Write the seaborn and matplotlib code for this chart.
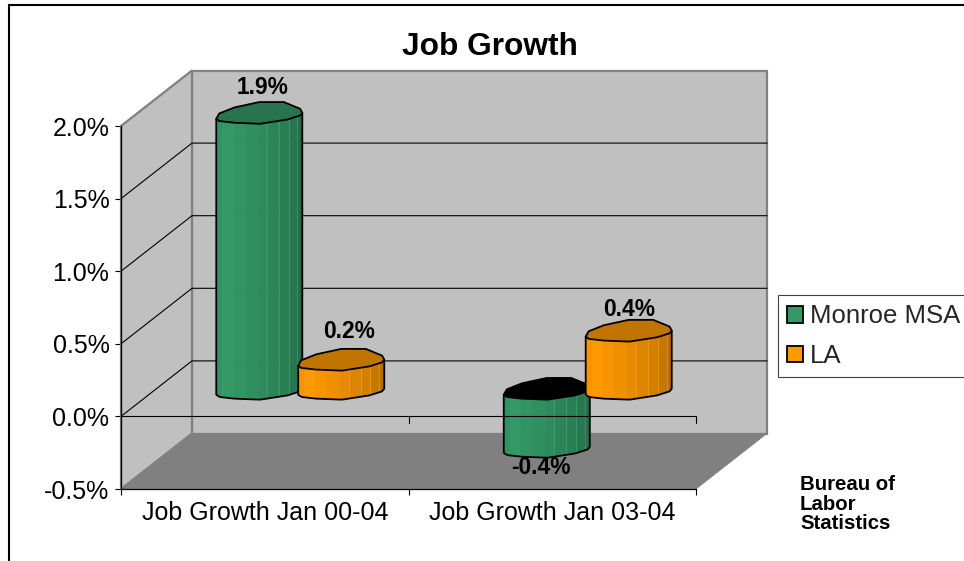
import numpy as np
import pandas as pd
import matplotlib
matplotlib.use("Agg")
import matplotlib.pyplot as plt
from matplotlib.colors import to_rgb
from matplotlib.lines import Line2D
from matplotlib.patches import Patch, Polygon, Rectangle
import seaborn as sns

# ---------- data ----------
categories = ["Job Growth Jan 00-04", "Job Growth Jan 03-04"]
series_names = ["Monroe MSA", "LA"]
monroe_values = [1.9, -0.4]
la_values = [0.2, 0.4]
y_ticks = [-0.5, 0.0, 0.5, 1.0, 1.5, 2.0]
title_text = "Job Growth"
source_text = "Bureau of\nLabor\nStatistics"

# ---------- styling ----------
W, H = 964, 561
AX_L, AX_R, AX_T, AX_B = 121, 696, 126, 489
DEPTH_X, DEPTH_Y = 71, 55.5
GREEN, ORANGE = "#339966", "#FF9900"
WALL, FLOOR, EDGE = "#C0C0C0", "#808080", "#808080"
FONT = "Liberation Sans"

sns.set_style("white")
plt.rcParams["font.family"] = [FONT, "DejaVu Sans"]

fig = plt.figure(figsize=(W / 100, H / 100), dpi=100, facecolor="white")
ax = fig.add_axes([AX_L / W, 1 - AX_B / H, (AX_R - AX_L) / W, (AX_B - AX_T) / H])
ax.patch.set_alpha(0)

df = pd.DataFrame({
    "category": categories * 2,
    "series": [series_names[0]] * 2 + [series_names[1]] * 2,
    "value": monroe_values + la_values,
})
sns.barplot(data=df, x="category", y="value", hue="series", ax=ax,
            palette=[GREEN, ORANGE], width=0.57, gap=-0.05, legend=False,
            order=categories, hue_order=series_names)
bars = [p for p in ax.patches if isinstance(p, Rectangle)]
ax.set_xlim(-0.5, 1.5)
ax.set_ylim(-0.5, 2.0)
ax.set_xlabel("")
ax.set_ylabel("")

PX_X = (AX_R - AX_L) / 2.0    # pixels per x unit
PX_Y = (AX_B - AX_T) / 2.5    # pixels per y unit


def P(x, y, depth=0.0, dx_px=0.0, dy_px=0.0):
    """Data coords of a point pushed back by depth and nudged in pixels (dy down)."""
    return (x + (DEPTH_X * depth + dx_px) / PX_X,
            y + (DEPTH_Y * depth - dy_px) / PX_Y)


def poly(points, **kw):
    p = Polygon(points, closed=True, clip_on=False, **kw)
    ax.add_patch(p)
    return p


# ---------- walls and floor ----------
x0, x1 = -0.5, 1.5
y0, y1 = -0.5, 2.0
poly([P(x0, y0, 1), P(x0, y1, 1), P(x1, y1, 1), P(x1, y0, 1)],
     facecolor=WALL, edgecolor=EDGE, linewidth=1.6, zorder=0.5)
poly([P(x0, y0), P(x0, y1), P(x0, y1, 1), P(x0, y0, 1)],
     facecolor=WALL, edgecolor=EDGE, linewidth=1.6, zorder=0.6)
poly([P(x0, y0), P(x0, y0, 1), P(x1, y0, 1), P(x1, y0)],
     facecolor=FLOOR, edgecolor=FLOOR, linewidth=0.5, zorder=0.7)
for t in y_ticks[1:-1]:
    pts = [P(x0, t), P(x0, t, 1), P(x1, t, 1)]
    ax.add_line(Line2D(*zip(*pts), color="black", lw=0.8, zorder=0.8, clip_on=False))

# ---------- cylinders, built on the seaborn bar rectangles ----------
UPPER = [(-1, 6), (-.93, .7), (-.58, -5.3), (0, -10.7), (.57, -10.7), (.95, -4), (1, 0)]
LOWER = [(-1, 6), (-.93, 8.3), (-.58, 10), (.02, 11), (.66, 6.7), (.95, 2.7), (1, 0)]
LU, LV = map(np.array, zip(*LOWER))
BANDS = np.array([-1, -.85, -.6, -.35, -.05, .17, .45, .68, .88, 1])
SHADE = [0.96, 1.0, 0.97, 0.94, 0.91, 0.87, 0.83, 0.78, 0.72]
SEAMS = [.17, .45, .68, .88]

order = [0, 2, 1, 3]      # monroe/la within each category, back to front
z = 2.0
for idx in order:
    b = bars[idx]
    base = np.array(to_rgb(GREEN if idx < 2 else ORANGE))
    cx = b.get_x() + b.get_width() / 2
    half = b.get_width() / 2
    lo, hi = sorted((b.get_y(), b.get_y() + b.get_height()))
    b.set_visible(False)

    def edge(u, level, v):
        return P(cx + u * half, level, 0.5, 0, v)

    for u0, u1, s in zip(BANDS[:-1], BANDS[1:], SHADE):
        us = np.linspace(u0, u1, 6)
        vs = np.interp(us, LU, LV)
        pts = [edge(u, hi, v) for u, v in zip(us, vs)] + \
              [edge(u, lo, v) for u, v in zip(us[::-1], vs[::-1])]
        c = base * s
        poly(pts, facecolor=c, edgecolor=c, linewidth=0.3, zorder=z)
    for u in SEAMS:
        v = np.interp(u, LU, LV)
        a, c = edge(u, hi, v), edge(u, lo, v)
        ax.add_line(Line2D([a[0], c[0]], [a[1], c[1]], color=np.minimum(base * 1.25, 1),
                           lw=0.6, alpha=0.55, zorder=z + 0.01, clip_on=False))
    # outline of the side
    us = np.linspace(-1, 1, 41)
    vs = np.interp(us, LU, LV)
    pts = [edge(-1, hi, 6)] + [edge(u, lo, v) for u, v in zip(us, vs)] + [edge(1, hi, 0)]
    ax.add_line(Line2D(*zip(*pts), color="black", lw=1.3, zorder=z + 0.02, clip_on=False))
    # top face: dark when the bar hangs below zero
    top_col = "black" if (hi == 0 and lo < 0) else base * 0.76
    face = [edge(u, hi, v) for u, v in UPPER] + [edge(u, hi, v) for u, v in LOWER[::-1]]
    poly(face, facecolor=top_col, edgecolor="black", linewidth=1.3, joinstyle="round", zorder=z + 0.03)
    z += 0.1

# ---------- zero axis, drawn over the bars ----------
ax.axhline(0, color="black", lw=0.8, zorder=3)
for xt in (0.5, 1.5):
    a, c = P(xt, 0), P(xt, 0, 0, 0, 7)
    ax.add_line(Line2D([a[0], c[0]], [a[1], c[1]], color="black", lw=0.8, zorder=3, clip_on=False))

# ---------- data labels ----------
LABEL_NUDGE = {0: (3, -25), 2: (8, -28), 1: (-6, 21), 3: (0.5, -21)}
for idx in order:
    b = bars[idx]
    val = (monroe_values + la_values)[idx]
    cx = b.get_x() + b.get_width() / 2
    dx, dy = LABEL_NUDGE[idx]
    px, py = P(cx, val, 0.5, dx, dy)
    ax.text(px, py, f"{val:.1f}%", ha="center", va="center", fontsize=16.4,
            fontweight="bold", color="black", zorder=5, clip_on=False)

# ---------- axes ----------
sns.despine(ax=ax, top=True, right=True)
for s in ("left", "bottom"):
    ax.spines[s].set_color("black")
    ax.spines[s].set_linewidth(0.9)
    ax.spines[s].set_zorder(4)
ax.set_yticks(y_ticks)
ax.set_yticklabels([f"{t:.1f}%" for t in y_ticks])
ax.set_xticks([-0.5, 0.5, 1.5])
ax.set_xticklabels([])
ax.set_xticks([0, 1], minor=True)
ax.set_xticklabels(categories, minor=True)
ax.tick_params(axis="y", which="major", left=True, length=4.5, width=0.8, pad=3.8,
               labelsize=18, color="black", labelcolor="black")
ax.tick_params(axis="x", which="major", bottom=True, length=4.5, width=0.8, color="black")
ax.tick_params(axis="x", which="minor", bottom=False, length=0, pad=9,
               labelsize=18, labelcolor="black")

# ---------- legend ----------
handles = [Patch(facecolor=GREEN, edgecolor="black", linewidth=1.3),
           Patch(facecolor=ORANGE, edgecolor="black", linewidth=1.3)]
leg = ax.legend(handles, series_names, loc="upper left",
                bbox_to_anchor=(778 / W, 1 - 295 / H), bbox_transform=fig.transFigure,
                fontsize=18.5, frameon=True, fancybox=False, framealpha=1,
                edgecolor="#404040", borderaxespad=0, borderpad=0.36,
                handlelength=0.62, handleheight=0.62, handletextpad=0.28,
                labelspacing=0.62)
leg.get_frame().set_linewidth(0.8)
leg.set_zorder(6)

# ---------- title, note and chart frame ----------
fig.text(490 / W, 1 - 47 / H, title_text, ha="center", va="center",
         fontsize=22.8, fontweight="bold", color="black")
fig.text(800 / W, 1 - 504 / H, source_text, ha="left", va="center", fontsize=14.7,
         fontweight="bold", color="black", linespacing=1.03)
fig.add_artist(Line2D([8.5 / W, 1], [1 - 4.5 / H, 1 - 4.5 / H], color="black", lw=1.5,
                      transform=fig.transFigure, solid_capstyle="butt"))
fig.add_artist(Line2D([8.5 / W, 8.5 / W], [1 - 4.5 / H, 0], color="black", lw=1.5,
                      transform=fig.transFigure, solid_capstyle="projecting"))

fig.savefig("out.png", dpi=100, facecolor="white")
